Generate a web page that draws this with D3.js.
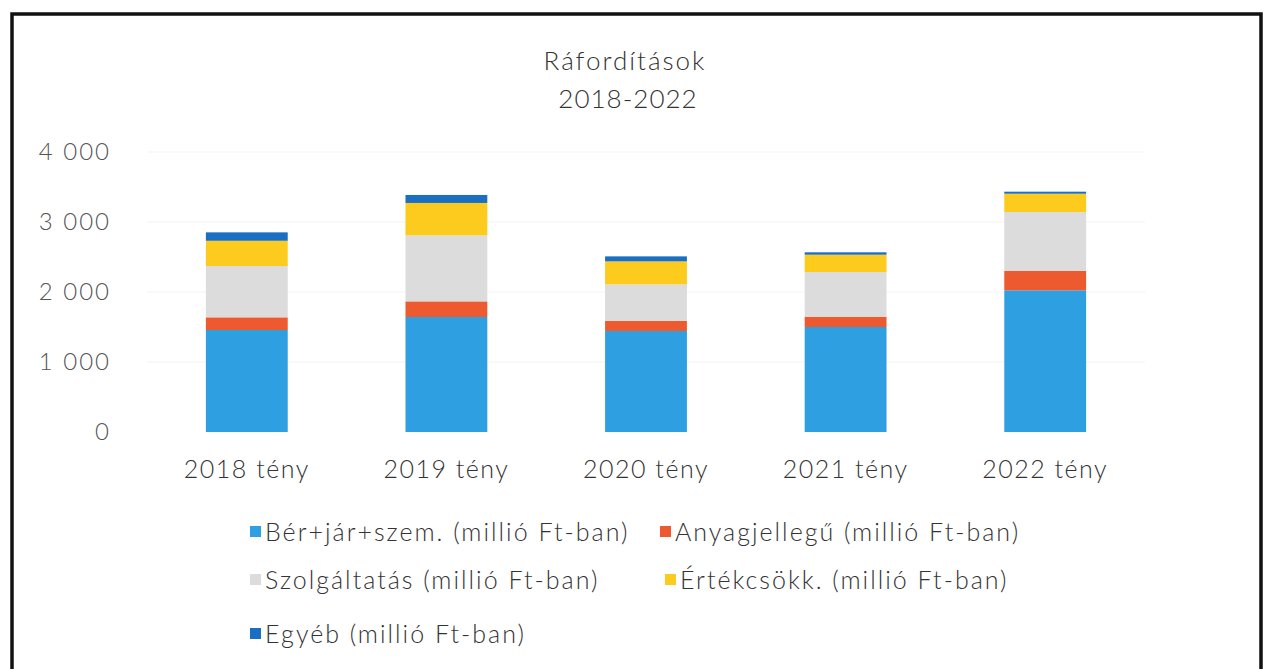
<!DOCTYPE html>
<html>
<head>
<meta charset="utf-8">
<script src="https://cdn.jsdelivr.net/npm/d3@7"></script>
<style>
  body { margin: 0; background: #fff; }
  text { font-family: Lato, "Open Sans", sans-serif; font-weight: 300; }
</style>
</head>
<body>
<div id="chart-area"></div>
<script>
// Data (millió Ft-ban)
const years = ['2018 tény', '2019 tény', '2020 tény', '2021 tény', '2022 tény'];
const seriesNames = [
    'Bér+jár+szem. (millió Ft-ban)',
    'Anyagjellegű (millió Ft-ban)',
    'Szolgáltatás (millió Ft-ban)',
    'Értékcsökk. (millió Ft-ban)',
    'Egyéb (millió Ft-ban)'
];
const ber = [1457, 1643, 1443, 1500, 2024];
const anyag = [181, 223, 143, 147, 276];
const szolg = [733, 943, 523, 639, 843];
const ertek = [361, 463, 329, 247, 261];
const egyeb = [120, 114, 71, 34, 29];
const yTicks = [0, 1000, 2000, 3000, 4000];
const colors = ['#2e9fe0', '#ee5a2f', '#dcdcdc', '#fccb1d', '#1b6fc2'];

const W = 1269, H = 669;
const margin = { left: 147, right: 124, top: 152, bottom: 237 };
const width = W - margin.left - margin.right;
const height = H - margin.top - margin.bottom;

const svg = d3.select('#chart-area')
    .append('svg')
    .attr('width', W)
    .attr('height', H);

// Frame
svg.append('rect')
    .attr('x', 12).attr('y', 14)
    .attr('width', 1249).attr('height', 680)
    .attr('fill', 'none')
    .attr('stroke', '#111')
    .attr('stroke-width', 3.5);

// Title
svg.append('text')
    .attr('x', 625).attr('y', 70)
    .attr('text-anchor', 'middle')
    .attr('font-size', '26px')
    .attr('letter-spacing', '2px')
    .attr('fill', '#333')
    .text('Ráfordítások');
svg.append('text')
    .attr('x', 628).attr('y', 108)
    .attr('text-anchor', 'middle')
    .attr('font-size', '26px')
    .attr('letter-spacing', '1px')
    .attr('fill', '#333')
    .text('2018-2022');

const g = svg.append('g')
    .attr('transform', 'translate(' + margin.left + ', ' + margin.top + ')');

// Scales
const x = d3.scaleBand()
    .domain(years)
    .range([0, width])
    .paddingInner(0.59)
    .paddingOuter(0.295);

const y = d3.scaleLinear()
    .domain([0, 4000])
    .range([height, 0]);

// Gridlines
g.append('g')
    .selectAll('line')
    .data(yTicks.slice(1))
    .enter()
    .append('line')
    .attr('x1', 0).attr('x2', width)
    .attr('y1', d => y(d)).attr('y2', d => y(d))
    .attr('stroke', '#f3f3f3')
    .attr('stroke-width', 1);

// Y axis
const yAxisCall = d3.axisLeft(y)
    .tickValues(yTicks)
    .tickSize(0)
    .tickPadding(36)
    .tickFormat(d => d3.format(',')(d).replace(',', ' '));
const yAxis = g.append('g')
    .attr('class', 'y-axis')
    .call(yAxisCall);
yAxis.select('.domain').remove();
yAxis.selectAll('text')
    .attr('font-size', '24px')
    .attr('letter-spacing', '2px')
    .attr('fill', '#555');

// X axis
const xAxisCall = d3.axisBottom(x).tickSize(0).tickPadding(28);
const xAxis = g.append('g')
    .attr('class', 'x-axis')
    .attr('transform', 'translate(0, ' + height + ')')
    .call(xAxisCall);
xAxis.select('.domain').remove();
xAxis.selectAll('text')
    .attr('font-size', '25px')
    .attr('letter-spacing', '1.5px')
    .attr('fill', '#333');

// Stack
const table = years.map((yr, i) => ({
    year: yr,
    s0: ber[i], s1: anyag[i], s2: szolg[i], s3: ertek[i], s4: egyeb[i]
}));
const keys = ['s0', 's1', 's2', 's3', 's4'];
const stacked = d3.stack().keys(keys)(table);

g.selectAll('g.layer')
    .data(stacked)
    .enter()
    .append('g')
    .attr('class', 'layer')
    .attr('fill', (d, i) => colors[i])
    .selectAll('rect')
    .data(d => d)
    .enter()
    .append('rect')
    .attr('x', d => x(d.data.year))
    .attr('y', d => y(d[1]))
    .attr('width', x.bandwidth())
    .attr('height', d => y(d[0]) - y(d[1]));

// Legend
const legendPos = [
    { x: 250, y: 532 },
    { x: 660, y: 532 },
    { x: 250, y: 580 },
    { x: 665, y: 580 },
    { x: 250, y: 634 }
];
const legend = svg.selectAll('g.legend')
    .data(seriesNames)
    .enter()
    .append('g')
    .attr('class', 'legend')
    .attr('transform', (d, i) => 'translate(' + legendPos[i].x + ', ' + legendPos[i].y + ')');
legend.append('rect')
    .attr('x', 0).attr('y', -6)
    .attr('width', 11).attr('height', 11)
    .attr('fill', (d, i) => colors[i]);
legend.append('text')
    .attr('x', 15).attr('y', 9)
    .attr('font-size', '25px')
    .attr('letter-spacing', '2px')
    .attr('fill', '#333')
    .text(d => d);
</script>
</body>
</html>
